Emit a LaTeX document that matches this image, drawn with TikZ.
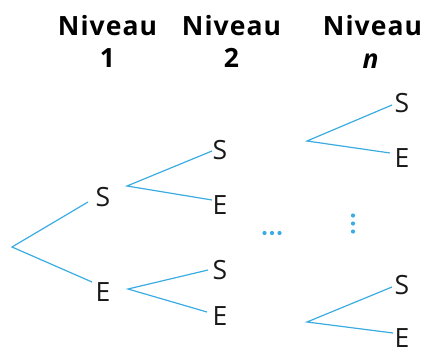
\documentclass[tikz,border=0pt]{standalone}
\usepackage{fontspec}
\setmainfont{Open Sans}
\usetikzlibrary{calc}
\definecolor{branch}{RGB}{58,172,226}
\definecolor{txt}{RGB}{25,25,25}
\tikzset{
  lvl/.style={inner sep=0pt, text=black, font=\fontsize{26.5}{28}\selectfont\bfseries\addfontfeatures{LetterSpace=4}},
  lbl/.style={inner sep=0pt, text=txt, font=\fontsize{26.5}{30}\selectfont},
  br/.style={draw=branch, line width=1.2pt},
  dotc/.style={circle, fill=branch, inner sep=0pt, minimum size=4.2pt}
}
\begin{document}
\begin{tikzpicture}[x=1pt,y=-1pt]
\useasboundingbox (0,0) rectangle (422,348);
% headers
\node[lvl] (h1) at (107.5,26) {Niveau};
\node[lvl] (k1) at (107.5,58) {1};
\node[lvl] (h2) at (231.5,26) {Niveau};
\node[lvl] (k2) at (231.5,58) {2};
\node[lvl] (h3) at (372.5,26) {Niveau};
\node[lvl] (k3) at (370.5,61) {\itshape n};
% branch points
\coordinate (r) at (12,247);
\coordinate (b2u) at (127,186);
\coordinate (b2l) at (128,289);
\coordinate (bnu) at (307,141);
\coordinate (bnl) at (307,322);
% labels
\node[lbl] (s1) at (103,197.5) {S};
\node[lbl] (e1) at (103,292.5) {E};
\node[lbl] (s2) at (220,150) {S};
\node[lbl] (e2) at (220,205) {E};
\node[lbl] (s3) at (220,270) {S};
\node[lbl] (e3) at (220,316) {E};
\node[lbl] (s4) at (402,103) {S};
\node[lbl] (e4) at (402,158) {E};
\node[lbl] (s5) at (402,285) {S};
\node[lbl] (e5) at (402,338) {E};
% branches
\draw[br] ($(s1)+(-15,4.5)$) -- (r) -- ($(e1)+(-11,-10.5)$);
\draw[br] ($(s2)+(-8,1)$) -- (b2u) -- ($(e2)+(-8,-5)$);
\draw[br] ($(s3)+(-12,0)$) -- (b2l) -- ($(e3)+(-13,-4)$);
\draw[br] ($(s4)+(-10,2)$) -- (bnu) -- ($(e4)+(-12,-5)$);
\draw[br] ($(s5)+(-10,2)$) -- (bnl) -- ($(e5)+(-9,-5)$);
% ellipses
\node[dotc] (hd1) at (264.5,233) {};
\node[dotc] (hd2) at (272,233) {};
\node[dotc] (hd3) at (279.5,233) {};
\node[dotc] (vd1) at (353,215.5) {};
\node[dotc] (vd2) at (353,223.5) {};
\node[dotc] (vd3) at (353,231.5) {};
\end{tikzpicture}
\end{document}
